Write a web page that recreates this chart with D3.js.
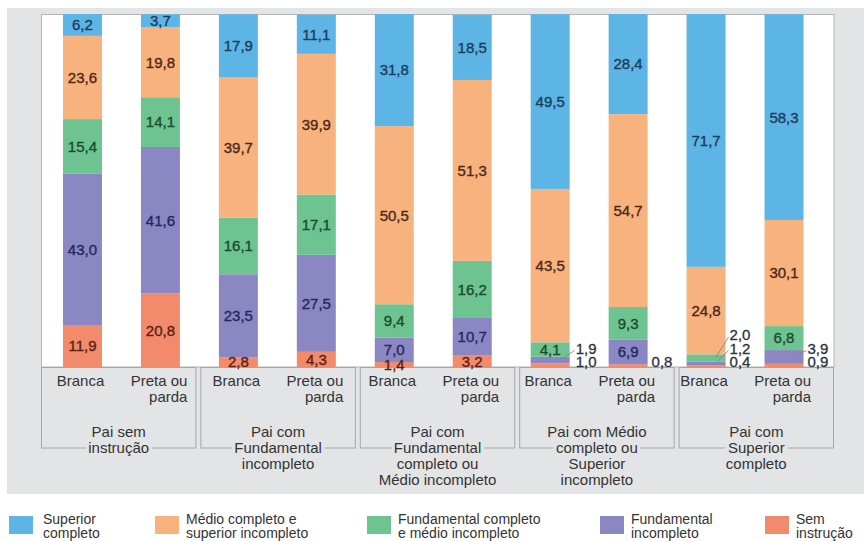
<!DOCTYPE html>
<html>
<head>
<meta charset="utf-8">
<script src="https://cdn.jsdelivr.net/npm/d3@7"></script>
<style>
  body { margin: 0; background: #fff; }
  text { font-family: "Liberation Sans", Arial, sans-serif; }
</style>
</head>
<body>
<svg width="864" height="541"></svg>
<script>
// data
var groupLabels = [
  ["Pai sem", "instrução"],
  ["Pai com", "Fundamental", "incompleto"],
  ["Pai com", "Fundamental", "completo ou", "Médio incompleto"],
  ["Pai com Médio", "completo ou", "Superior", "incompleto"],
  ["Pai com", "Superior", "completo"]
];
var raceLabels = [["Branca"], ["Preta ou", "parda"]];
var seriesKeys = ["sem", "fundInc", "fundComp", "medio", "superior"];
var seriesNames = [
  ["Sem", "instrução"],
  ["Fundamental", "incompleto"],
  ["Fundamental completo", "e médio incompleto"],
  ["Médio completo e", "superior incompleto"],
  ["Superior", "completo"]
];
var semInstrucao     = [11.9, 20.8, 2.8, 4.3, 1.4, 3.2, 1.0, 0.8, 0.4, 0.9];
var fundIncompleto   = [43.0, 41.6, 23.5, 27.5, 7.0, 10.7, 1.9, 6.9, 1.2, 3.9];
var fundCompleto     = [15.4, 14.1, 16.1, 17.1, 9.4, 16.2, 4.1, 9.3, 2.0, 6.8];
var medioCompleto    = [23.6, 19.8, 39.7, 39.9, 50.5, 51.3, 43.5, 54.7, 24.8, 30.1];
var superiorCompleto = [6.2, 3.7, 17.9, 11.1, 31.8, 18.5, 49.5, 28.4, 71.7, 58.3];
// labels drawn outside the bar: [bar index, series index]
var outsideLabels = [[6, 0], [6, 1], [7, 0], [8, 0], [8, 1], [8, 2], [9, 0], [9, 1]];

var colors = ["#f28a6c", "#8a87c3", "#6dc491", "#f8b27d", "#5cb5e5"];
var textColors = ["#5a1f14", "#25275a", "#1c4a2c", "#4a2816", "#1d3c5c"];

var svg = d3.select("svg");
var bg = "#e3e4e5";

var bars = [];
groupLabels.forEach(function(g, gi) {
  raceLabels.forEach(function(r, ri) {
    var i = gi * 2 + ri;
    bars.push({
      id: i, group: gi, race: ri,
      sem: semInstrucao[i], fundInc: fundIncompleto[i], fundComp: fundCompleto[i],
      medio: medioCompleto[i], superior: superiorCompleto[i]
    });
  });
});

var x = d3.scaleBand().domain(d3.range(bars.length)).range([43.5, 823])
    .paddingInner(0.5).paddingOuter(0.25);
var gx = d3.scaleBand().domain(d3.range(groupLabels.length)).range([41, 834]).paddingInner(0.025);
var totals = bars.map(function(b) { return d3.sum(seriesKeys, function(k) { return b[k]; }); });
var y = d3.scaleLinear().domain([0, d3.max(totals)]).range([367, 14]);

// backgrounds
svg.append("rect").attr("x", 7).attr("y", 8).attr("width", 857).attr("height", 486).attr("fill", bg);
svg.append("rect").attr("x", 41.5).attr("y", 14.5).attr("width", 792.5).attr("height", 352.5)
   .attr("fill", "#fff").attr("stroke", "#b4b4b4").attr("stroke-width", 1);

// group boxes
svg.append("g").selectAll("rect").data(groupLabels).enter().append("rect")
   .attr("x", function(d, i) { return gx(i) + 0.5; })
   .attr("y", 367.5)
   .attr("width", gx.bandwidth() - 1)
   .attr("height", 80.5)
   .attr("fill", "none").attr("stroke", "#a6a6a6").attr("stroke-width", 1);

// stacked bars
var stack = d3.stack().keys(seriesKeys)(bars);
var layer = svg.append("g").selectAll("g").data(stack).enter().append("g")
   .attr("fill", function(d, i) { return colors[i]; });
layer.selectAll("rect").data(function(d) { return d; }).enter().append("rect")
   .attr("x", function(d) { return x(d.data.id); })
   .attr("width", x.bandwidth())
   .attr("y", function(d) { return y(d[1]); })
   .attr("height", function(d) { return y(d[0]) - y(d[1]); });

function isOutside(bi, si) {
  return outsideLabels.some(function(o) { return o[0] === bi && o[1] === si; });
}
function fmt(v) { return d3.format(".1f")(v).replace(".", ","); }

// value labels inside
var labels = svg.append("g").attr("font-size", 15);
stack.forEach(function(s, si) {
  s.forEach(function(d) {
    if (isOutside(d.data.id, si)) return;
    var cy = (y(d[0]) + y(d[1])) / 2;
    labels.append("text")
      .attr("x", x(d.data.id) + x.bandwidth() / 2)
      .attr("y", cy)
      .attr("dy", "0.36em")
      .attr("text-anchor", "middle")
      .attr("fill", textColors[si])
      .attr("stroke", textColors[si]).attr("stroke-width", 0.35)
      .text(fmt(d.data[seriesKeys[si]]));
  });
});

// value labels outside, with leader lines
var outRows = [362, 348.5, 335];
bars.forEach(function(b) {
  var list = outsideLabels.filter(function(o) { return o[0] === b.id; })
                          .map(function(o) { return o[1]; }).sort();
  list.forEach(function(si, k) {
    var d = stack[si][b.id];
    var segY = (y(d[0]) + y(d[1])) / 2;
    var lx = x(b.id) + x.bandwidth() + (b.id === 6 ? 5 : 3);
    var ly = outRows[k];
    if (Math.abs(segY - ly) > 5) {
      labels.append("line")
        .attr("x1", x(b.id) + x.bandwidth() - 10).attr("y1", segY)
        .attr("x2", lx).attr("y2", ly + 2)
        .attr("stroke", "#888").attr("stroke-width", 0.9);
    }
    labels.append("text")
      .attr("x", lx + 1).attr("y", ly).attr("dy", "0.36em")
      .attr("fill", "#2a3140")
      .attr("stroke", "#2a3140").attr("stroke-width", 0.3)
      .text(fmt(b[seriesKeys[si]]));
  });
});

// race labels
var cat = svg.append("g").attr("font-size", 15).attr("fill", "#333");
bars.forEach(function(b) {
  var cx = x(b.id) + x.bandwidth() / 2;
  var lines = raceLabels[b.race];
  if (lines.length === 1) {
    cat.append("text").attr("x", cx - 2).attr("y", 381).attr("dy", "0.36em")
       .attr("text-anchor", "middle").text(lines[0]);
  } else {
    lines.forEach(function(t, li) {
      cat.append("text").attr("x", cx + 27).attr("y", 381 + li * 16).attr("dy", "0.36em")
         .attr("text-anchor", "end").text(t);
    });
  }
});

// group labels (masking the box border)
groupLabels.forEach(function(lines, gi) {
  var cx = gx(gi) + gx.bandwidth() / 2;
  lines.forEach(function(t, li) {
    cat.append("text").attr("x", cx).attr("y", 432 + li * 16).attr("dy", "0.36em")
       .attr("text-anchor", "middle")
       .attr("stroke", bg).attr("stroke-width", 7).attr("paint-order", "stroke")
       .text(t);
  });
});

// legend
var legendX = [9, 155, 367, 600, 765];
var legend = svg.append("g").attr("font-size", 14).attr("fill", "#333");
[4, 3, 2, 1, 0].forEach(function(si, k) {
  legend.append("rect").attr("x", legendX[k]).attr("y", 516)
        .attr("width", 24).attr("height", 18).attr("fill", colors[si]);
  seriesNames[si].forEach(function(t, li) {
    legend.append("text").attr("x", legendX[k] + (k === 0 ? 34 : 31))
          .attr("y", 519 + li * 14).attr("dy", "0.36em").text(t);
  });
});
</script>
</body>
</html>
